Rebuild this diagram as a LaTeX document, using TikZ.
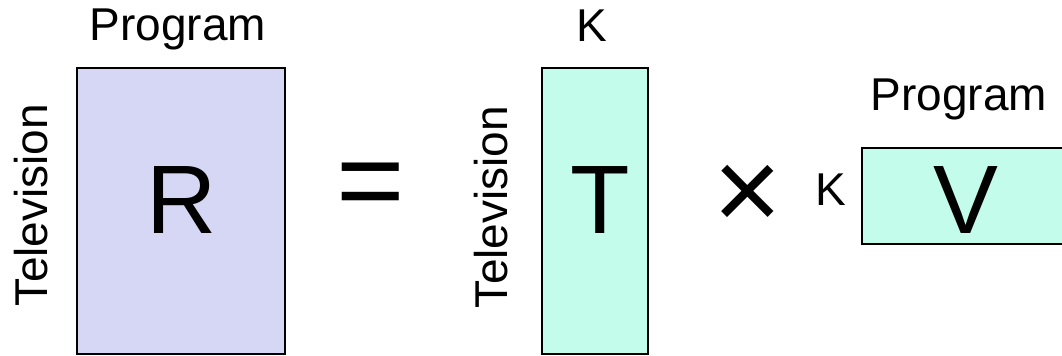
\documentclass[tikz,border=0pt]{standalone}
\usepackage{fontspec}
\setmainfont{Liberation Sans}
\definecolor{lav}{HTML}{D6D6F5}
\definecolor{mint}{HTML}{C4FCEB}
\begin{document}
\begin{tikzpicture}[x=0.75pt,y=-0.75pt,
  box/.style={draw=black,line width=1.5pt,inner sep=0,anchor=north west},
  lab/.style={font=\fontsize{34.5}{40}\selectfont,inner sep=0},
  big/.style={font=\fontsize{73}{80}\selectfont,inner sep=0},
  op/.style={font=\fontsize{88}{90}\selectfont,inner sep=0}]
\useasboundingbox (0,0) rectangle (1062,355);
\clip (0,0) rectangle (1062,355);
% boxes
\node[box,fill=lav,minimum width=156pt,minimum height=214.5pt] (Rbox) at (76,67) {};
\node[box,fill=mint,minimum width=79.5pt,minimum height=214.5pt] (Tbox) at (541,67) {};
\node[box,fill=mint,minimum width=157pt,minimum height=72pt] (Vbox) at (861,147) {};
% letters
\node[big] (R) at (182,200) {R};
\node[big] (T) at (600,200) {T};
\node[big] (V) at (966,200) {V};
% operators
\node[op] (eq) at (371,191.5) {=};
\node[op] (times) at (748,198) {×};
% labels
\node[lab,anchor=base] (Rtop) at (178,40) {Program};
\node[lab,anchor=base] (Ttop) at (592,41) {K};
\node[lab,anchor=base] (Vtop) at (959,110) {Program};
\node[lab,anchor=base] (Vleft) at (831,205) {K};
\node[lab,rotate=90,anchor=base] (Rleft) at (47,205) {Television};
\node[lab,rotate=90,anchor=base] (Tleft) at (507,207) {Television};
\end{tikzpicture}
\end{document}
